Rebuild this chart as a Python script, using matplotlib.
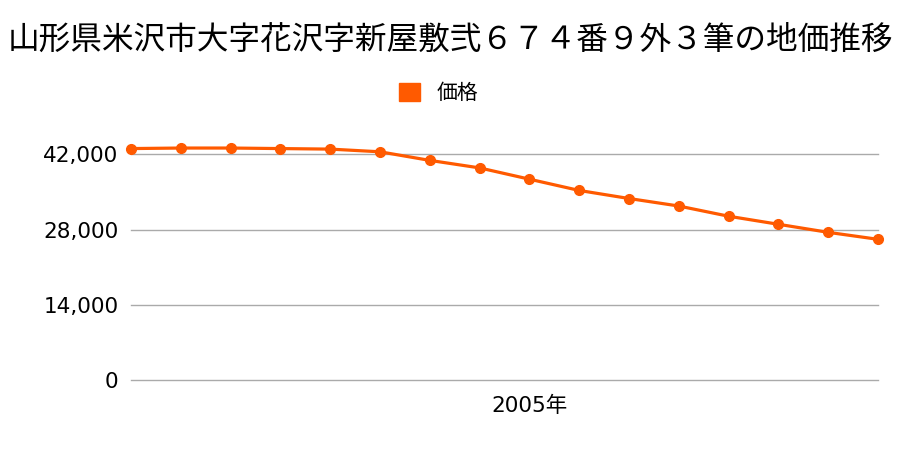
import matplotlib
matplotlib.use("Agg")
import matplotlib.pyplot as plt
from matplotlib.patches import Patch

plt.rcParams['font.family'] = ['Noto Sans CJK JP', 'DejaVu Sans']

# data
years = list(range(1997, 2013))
prices = [43100, 43200, 43200, 43100, 43000, 42500, 40900, 39500,
          37400, 35300, 33800, 32400, 30500, 29000, 27500, 26200]
yticks = [0, 14000, 28000, 42000]
xtick_years = [2005]
title = "山形県米沢市大字花沢字新屋敷弐６７４番９外３筆の地価推移"
series_name = "価格"
color = "#ff5a00"

fig = plt.figure(figsize=(9, 4.5), dpi=100)
ax = fig.add_axes([131/900, 1 - 380/450, (878 - 131)/900, (380 - 133)/450])

ax.plot(years, prices, color=color, linewidth=2.3, marker='o',
        markersize=7, clip_on=False, zorder=3)

tick_fam = ['DejaVu Sans', 'Noto Sans CJK JP']
ax.set_xlim(years[0], years[-1])
ax.set_ylim(0, 46000)
ax.set_yticks(yticks)
ax.set_yticklabels([f"{v:,}" for v in yticks], family=tick_fam, fontsize=15.5)
ax.set_xticks(xtick_years)
ax.set_xticklabels([f"{y}年" for y in xtick_years], family=tick_fam, fontsize=15.5)
ax.grid(axis='y', color='#aaaaaa', linewidth=1)
for gl in ax.get_ygridlines():
    gl.set_clip_on(False)
ax.set_axisbelow(True)
for s in ax.spines.values():
    s.set_visible(False)
ax.tick_params(axis='y', length=0, pad=9)
ax.tick_params(axis='x', length=0, pad=11)

fig.text(0.5, 1 - 40/450, title, ha='center', va='center', fontsize=22.8)
fig.legend(handles=[Patch(color=color)], labels=[series_name],
           loc='center', bbox_to_anchor=(0.487, 1 - 93/450), frameon=False,
           fontsize=15, handlelength=1.0, handleheight=1.0, handletextpad=0.8)

fig.savefig("out.png", dpi=100)
